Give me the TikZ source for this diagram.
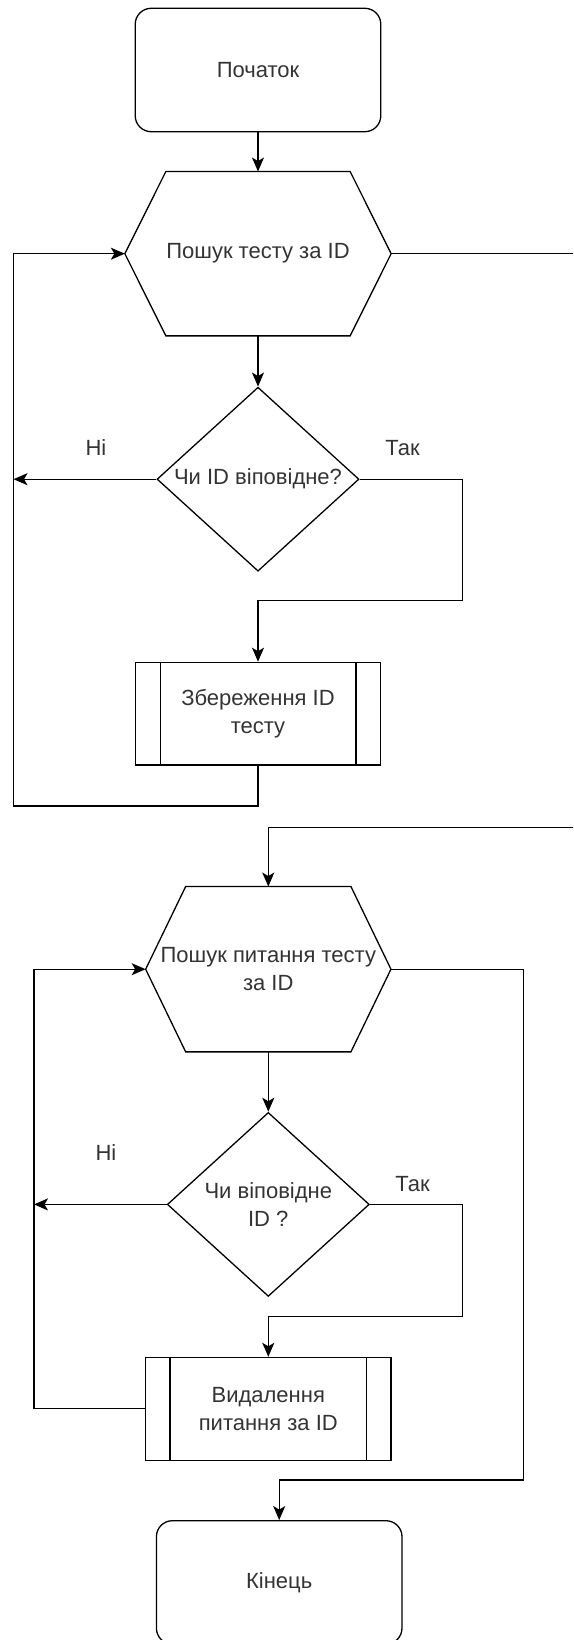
\documentclass[tikz,border=0pt]{standalone}
\usepackage{fontspec}
\setmainfont{Liberation Sans}
\usetikzlibrary{arrows.meta}
\usetikzlibrary{positioning}
\usetikzlibrary{shapes.geometric}

\begin{document}
\begin{tikzpicture}[x=1pt,y=-1pt,line width=1.3pt,>={Stealth[length=14pt,width=12pt,inset=3.5pt]},
  font=\fontsize{22}{28}\selectfont,text=black!80,
  term/.style={draw,rectangle,rounded corners=16pt,minimum width=245.6pt,minimum height=123.4pt,inner sep=0pt},
  hexbox/.style={rectangle,minimum width=265pt,minimum height=163pt,inner sep=0pt,align=center},
  decision/.style={draw,diamond,aspect=1.1,minimum width=202pt,minimum height=184pt,inner sep=0pt,align=center},
  proc/.style={draw,rectangle,minimum width=245.6pt,minimum height=102.7pt,inner sep=0pt,align=center}]
\useasboundingbox (0,0) rectangle (573,1640);
\clip (0,0) rectangle (573,1640);

\node[term] (start) at (258,70) {Початок};
\node[hexbox] (find1) [below of = start, node distance=183.7pt] {Пошук тесту за ID};
\node[decision] (check1) [below of = find1, node distance=225.5pt] {Чи ID віповідне?};
\node[proc] (save) [below of = check1, node distance=234.5pt] {Збереження ID\\тесту};
\node[hexbox,minimum width=244pt,minimum height=164pt] (find2) [below of = save, node distance=255.5pt, xshift=10.3pt] {Пошук питання тесту\\за ID};
\node[decision] (check2) [below of = find2, node distance=235.2pt] {Чи віповідне\\ID ?};
\node[proc] (del) [below of = check2, node distance=204.4pt] {Видалення\\питання за ID};
\node[term] (stop) [below of = del, node distance=173.6pt, xshift=10.9pt] {Кінець};

\node (n1) at (96,448) {Ні};
\node (t1) at (402.6,448) {Так};
\node (n2) at (106,1153) {Ні};
\node (t2) at (412.5,1184) {Так};

\coordinate (b1) at (13.5,806);
\coordinate (r1) at (462.3,600.7);
\coordinate (o1) at (600,827.5);
\coordinate (b2) at (34,1000);
\coordinate (r2) at (462.3,1316.7);
\coordinate (o2) at (523.4,1480);

% hexagons and side bars
\draw ([xshift=41pt]find1.north west) -- ([xshift=-41pt]find1.north east) -- (find1.east) -- ([xshift=-41pt]find1.south east) -- ([xshift=41pt]find1.south west) -- (find1.west) -- cycle;
\draw ([xshift=40pt]find2.north west) -- ([xshift=-40pt]find2.north east) -- (find2.east) -- ([xshift=-40pt]find2.south east) -- ([xshift=40pt]find2.south west) -- (find2.west) -- cycle;
\draw ([xshift=25.6pt]save.north west) -- ([xshift=25.6pt]save.south west);
\draw ([xshift=-25.6pt]save.north east) -- ([xshift=-25.6pt]save.south east);
\draw ([xshift=25pt]del.north west) -- ([xshift=25pt]del.south west);
\draw ([xshift=-25pt]del.north east) -- ([xshift=-25pt]del.south east);

\draw[->] (start) -- (find1);
\draw[->] (find1) -- (check1);
\draw[->] (check1.west) -- (check1.west -| b1);
\draw[->] (check1.east) -| (r1) -| (save.north);
\draw[->] (save.south) |- (b1) |- (find1.west);
\draw[->] (find1.east) -| (o1) -| (find2.north);

\draw[->] (find2) -- (check2);
\draw[->] (check2.west) -- (check2.west -| b2);
\draw[->] (check2.east) -| (r2) -| (del.north);
\draw[->] (del.west) -| (b2) |- (find2.west);
\draw[->] (find2.east) -| (o2) -| (stop.north);
\end{tikzpicture}
\end{document}
